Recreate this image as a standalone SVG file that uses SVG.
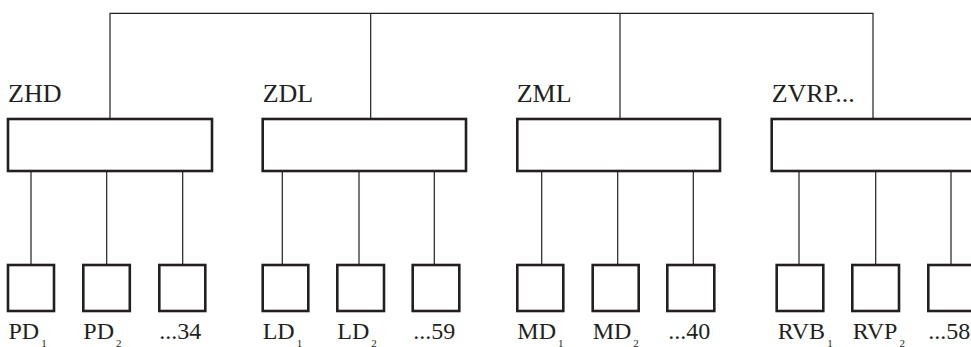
<svg xmlns="http://www.w3.org/2000/svg" width="971" height="347" viewBox="0 0 971 347">
<style>
.bg{fill:#ffffff}
.big{fill:#ffffff;stroke:#231f20;stroke-width:2.6}
.small{fill:#ffffff;stroke:#231f20;stroke-width:2.6}
.conn{fill:none;stroke:#231f20;stroke-width:1.2}
.lbl{font-family:"Liberation Serif","Times New Roman",serif;fill:#231f20}
.top{font-size:26px}
.bot{font-size:24px}
.sub{font-size:11px}
</style>
<rect class="bg" x="0" y="0" width="971" height="347"/>
<g id="connectors">
  <path class="conn" d="M110,119 V13.3 H873 V119"/>
  <path class="conn" d="M370.7,13.3 V119"/>
  <path class="conn" d="M620,13.3 V119"/>
  <path class="conn" d="M31,171 V265 M106.7,171 V265 M182.7,171 V265"/>
  <path class="conn" d="M282.3,171 V265 M359,171 V265 M434.3,171 V265"/>
  <path class="conn" d="M541.7,171 V265 M617.7,171 V265 M693.3,171 V265"/>
  <path class="conn" d="M799,171 V265 M875.7,171 V265 M951,171 V265"/>
</g>
<g id="ZHD">
  <rect class="big" x="8" y="119" width="204" height="52"/>
  <text class="lbl top" x="8" y="102">ZHD</text>
</g>
<g id="ZDL">
  <rect class="big" x="262.7" y="119" width="203.3" height="52"/>
  <text class="lbl top" x="262.7" y="102">ZDL</text>
</g>
<g id="ZML">
  <rect class="big" x="517.3" y="119" width="202.7" height="52"/>
  <text class="lbl top" x="516.7" y="102">ZML</text>
</g>
<g id="ZVRP">
  <rect class="big" x="771.7" y="119" width="204" height="52"/>
  <text class="lbl top" x="771.7" y="102">ZVRP...</text>
</g>
<g id="PD1">
  <rect class="small" x="8" y="265" width="46" height="46"/>
  <text class="lbl bot" x="8.5" y="339">PD<tspan class="sub" dx="2" dy="7.5">1</tspan></text>
</g>
<g id="PD2">
  <rect class="small" x="83.3" y="265" width="46.5" height="46"/>
  <text class="lbl bot" x="83.3" y="339">PD<tspan class="sub" dx="2" dy="7.5">2</tspan></text>
</g>
<g id="PD34">
  <rect class="small" x="159.3" y="265" width="46" height="46"/>
  <text class="lbl bot" x="159.3" y="339">...34</text>
</g>
<g id="LD1">
  <rect class="small" x="262.7" y="265" width="45.6" height="46"/>
  <text class="lbl bot" x="262.7" y="339">LD<tspan class="sub" dx="2" dy="7.5">1</tspan></text>
</g>
<g id="LD2">
  <rect class="small" x="337.3" y="265" width="46.7" height="46"/>
  <text class="lbl bot" x="337.3" y="339">LD<tspan class="sub" dx="2" dy="7.5">2</tspan></text>
</g>
<g id="LD59">
  <rect class="small" x="412.7" y="265" width="46.6" height="46"/>
  <text class="lbl bot" x="413.3" y="339">...59</text>
</g>
<g id="MD1">
  <rect class="small" x="517.3" y="265" width="46" height="46"/>
  <text class="lbl bot" x="517.3" y="339">MD<tspan class="sub" dx="2" dy="7.5">1</tspan></text>
</g>
<g id="MD2">
  <rect class="small" x="592.7" y="265" width="46" height="46"/>
  <text class="lbl bot" x="592.7" y="339">MD<tspan class="sub" dx="2" dy="7.5">2</tspan></text>
</g>
<g id="MD40">
  <rect class="small" x="667.3" y="265" width="47" height="46"/>
  <text class="lbl bot" x="668.3" y="339">...40</text>
</g>
<g id="RVB1">
  <rect class="small" x="776.7" y="265" width="46.6" height="46"/>
  <text class="lbl bot" x="777.7" y="339">RVB<tspan class="sub" dx="2" dy="7.5">1</tspan></text>
</g>
<g id="RVP2">
  <rect class="small" x="852.3" y="265" width="46.7" height="46"/>
  <text class="lbl bot" x="852.7" y="339">RVP<tspan class="sub" dx="2" dy="7.5">2</tspan></text>
</g>
<g id="RV58">
  <rect class="small" x="928.3" y="265" width="46.7" height="46"/>
  <text class="lbl bot" x="928.3" y="339">...58</text>
</g>
</svg>
